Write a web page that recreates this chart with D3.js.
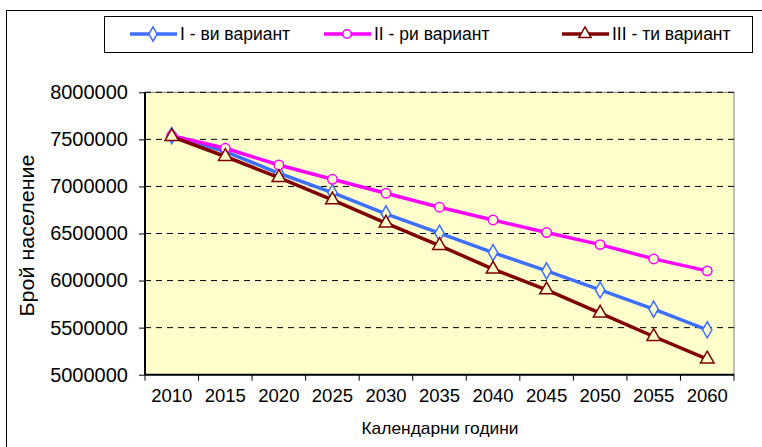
<!DOCTYPE html>
<html lang="bg">
<head>
<meta charset="UTF-8">
<title>Брой население</title>
<script src="https://d3js.org/d3.v7.min.js"></script>
<style>
    body { margin: 0; background: #fff; font-family: "Liberation Sans", Arial, sans-serif; }
    svg text { fill: #000; }
</style>
</head>
<body>
<svg id="chart" width="762" height="447"></svg>
<script>
    // data
    const years = [2010, 2015, 2020, 2025, 2030, 2035, 2040, 2045, 2050, 2055, 2060];
    const variant1 = [7540000, 7370000, 7140000, 6934000, 6708000, 6503000, 6297000, 6103000, 5901000, 5696000, 5477000];
    const variant2 = [7540000, 7405000, 7228000, 7076000, 6928000, 6779000, 6644000, 6510000, 6382000, 6230000, 6103000];
    const variant3 = [7530000, 7318000, 7094000, 6857000, 6610000, 6372000, 6121000, 5901000, 5654000, 5406000, 5166000];
    const seriesNames = ["I - ви вариант", "II - ри вариант", "III - ти вариант"];
    const yTicks = [5000000, 5500000, 6000000, 6500000, 7000000, 7500000, 8000000];

    const svg = d3.select("#chart");

    const plotLeft = 145, plotRight = 734, plotTop = 92.3, plotBottom = 374.7;

    const x = d3.scaleBand().domain(years).range([plotLeft, plotRight]);
    const y = d3.scaleLinear().domain([5000000, 8000000]).range([plotBottom, plotTop]);

    // outer chart frame
    svg.append("rect")
        .attr("x", 6.5).attr("y", 10.5)
        .attr("width", 820).attr("height", 500)
        .attr("fill", "#fff").attr("stroke", "#000");

    // plot area
    svg.append("rect")
        .attr("x", plotLeft).attr("y", plotTop)
        .attr("width", plotRight - plotLeft).attr("height", plotBottom - plotTop)
        .attr("fill", "#FFFFCC").attr("stroke", "#808080");

    // dashed gridlines
    svg.append("g")
        .selectAll("line")
        .data(yTicks.filter(d => d > 5000000))
        .join("line")
        .attr("x1", plotLeft).attr("x2", plotRight)
        .attr("y1", d => y(d)).attr("y2", d => y(d))
        .attr("stroke", "#000")
        .attr("stroke-dasharray", "6,5");

    // y axis
    const yAxis = svg.append("g")
        .attr("transform", `translate(${plotLeft},0)`)
        .call(d3.axisLeft(y).tickValues(yTicks).tickSize(6).tickPadding(11).tickFormat(d3.format("d")));
    yAxis.select(".domain").attr("stroke", "#000").attr("stroke-width", 2).attr("d", `M0,${plotTop}V${plotBottom}`);
    yAxis.selectAll(".tick line").attr("stroke", "#000");
    yAxis.selectAll("text")
        .style("font-family", "'Liberation Sans', Arial, sans-serif")
        .style("font-size", "20px");

    // x axis: labels centred on categories, ticks between them
    const xAxis = svg.append("g")
        .attr("transform", `translate(0,${plotBottom})`)
        .call(d3.axisBottom(x).tickSize(0).tickPadding(14));
    xAxis.select(".domain").remove();
    xAxis.selectAll("text")
        .style("font-family", "'Liberation Sans', Arial, sans-serif")
        .style("font-size", "18.5px");
    svg.append("line")
        .attr("x1", plotLeft).attr("x2", plotRight)
        .attr("y1", plotBottom).attr("y2", plotBottom)
        .attr("stroke", "#000").attr("stroke-width", 2);
    svg.append("g")
        .selectAll("line")
        .data(years.map(d => x(d)).concat([plotRight]))
        .join("line")
        .attr("x1", d => d).attr("x2", d => d)
        .attr("y1", plotBottom).attr("y2", plotBottom + 6)
        .attr("stroke", "#000");

    // axis titles
    svg.append("text")
        .attr("transform", `translate(34,${(plotTop + plotBottom) / 2 + 2}) rotate(-90)`)
        .attr("text-anchor", "middle")
        .attr("textLength", 162)
        .attr("lengthAdjust", "spacingAndGlyphs")
        .style("font-size", "21px")
        .text("Брой население");
    svg.append("text")
        .attr("x", 440).attr("y", 434)
        .attr("text-anchor", "middle")
        .attr("textLength", 157)
        .attr("lengthAdjust", "spacingAndGlyphs")
        .style("font-size", "17px")
        .text("Календарни години");

    // series
    const series = [
        { name: seriesNames[0], values: variant1, color: "#3F6FFF", marker: d3.symbolDiamond, size: 75 },
        { name: seriesNames[1], values: variant2, color: "#FF00FF", marker: d3.symbolCircle, size: 70 },
        { name: seriesNames[2], values: variant3, color: "#800000", marker: d3.symbolTriangle, size: 80 }
    ];

    const line = d3.line()
        .x((d, i) => x(years[i]) + x.bandwidth() / 2)
        .y(d => y(d));

    series.forEach(s => {
        const g = svg.append("g");
        g.append("path")
            .attr("d", line(s.values))
            .attr("fill", "none")
            .attr("stroke", s.color)
            .attr("stroke-width", 3.5);
        g.selectAll("path.m")
            .data(s.values)
            .join("path")
            .attr("class", "m")
            .attr("transform", (d, i) => `translate(${x(years[i]) + x.bandwidth() / 2},${y(d)})`)
            .attr("d", d3.symbol().type(s.marker).size(s.size))
            .attr("fill", "#FFFFCC")
            .attr("stroke", s.color)
            .attr("stroke-width", 1.5);
    });

    // legend
    svg.append("rect")
        .attr("x", 104.5).attr("y", 16.5)
        .attr("width", 648).attr("height", 36)
        .attr("fill", "#fff").attr("stroke", "#000");

    const legendX = [130, 324, 562];
    const legend = svg.append("g")
        .selectAll("g")
        .data(series)
        .join("g")
        .attr("transform", (d, i) => `translate(${legendX[i]},34)`);
    legend.append("line")
        .attr("x1", 0).attr("x2", 47)
        .attr("stroke", d => d.color).attr("stroke-width", 3.5);
    legend.append("path")
        .attr("transform", "translate(23,0)")
        .attr("d", d => d3.symbol().type(d.marker).size(d.size * 0.8)())
        .attr("fill", "#fff")
        .attr("stroke", d => d.color)
        .attr("stroke-width", 1.5);
    legend.append("text")
        .attr("x", 50).attr("dy", "0.35em")
        .style("font-size", "17.5px")
        .text(d => d.name);
</script>
</body>
</html>
